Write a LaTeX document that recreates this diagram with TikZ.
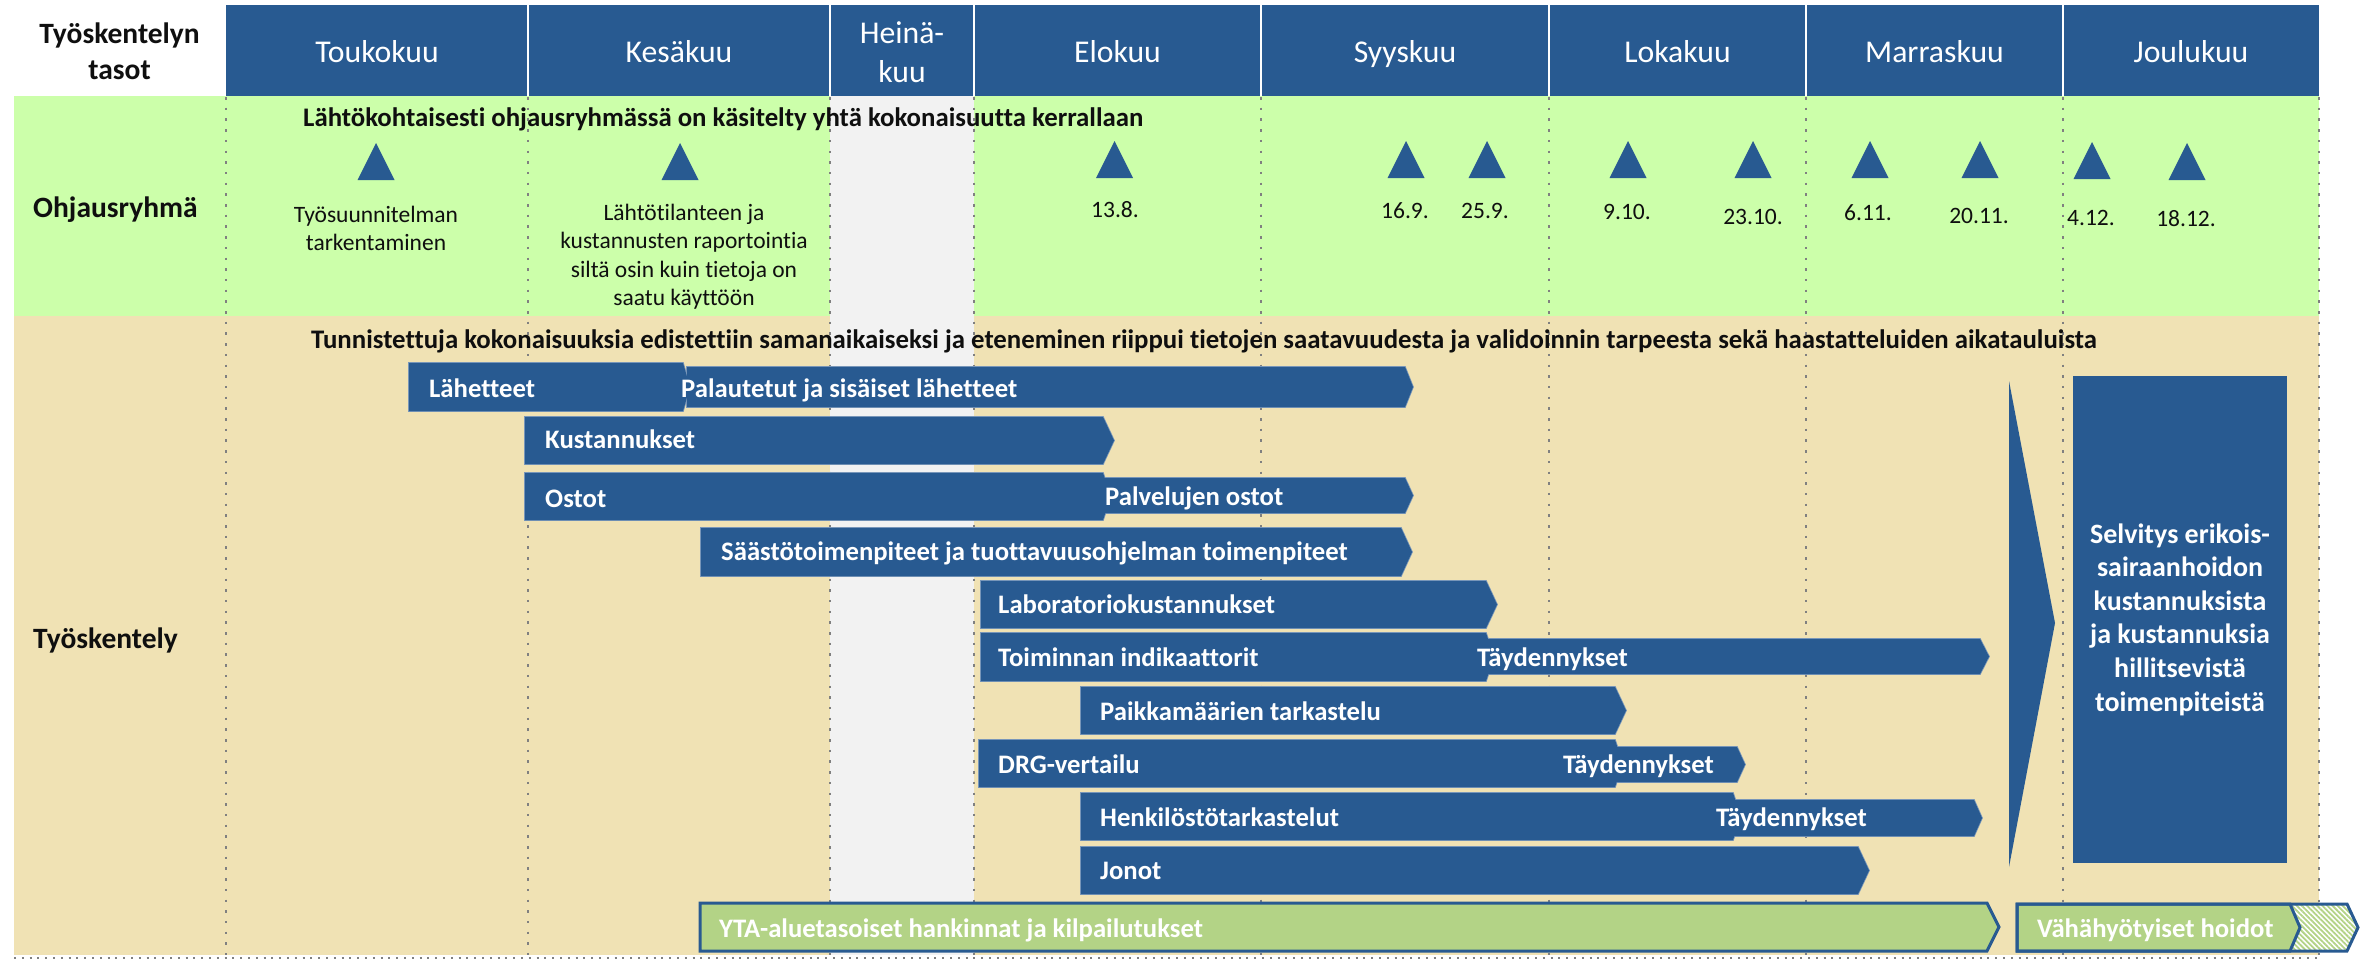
\documentclass[tikz,border=0pt]{standalone}
\usepackage{fontspec}
\setmainfont{Carlito}[Ligatures={NoCommon}]
\usetikzlibrary{patterns.meta}

\definecolor{barblue}{RGB}{40,90,145}
\definecolor{baredgecol}{RGB}{120,150,185}
\definecolor{bandgreen}{RGB}{204,255,170}
\definecolor{bandtan}{RGB}{240,226,180}
\definecolor{colgray}{RGB}{242,242,242}
\definecolor{ytagreen}{RGB}{179,211,134}
\definecolor{gridgray}{RGB}{128,128,128}
\definecolor{inktext}{RGB}{15,15,15}

% pentagon bar: style, x left, y top, x end of body, x of tip, y bottom
\newcommand\ganttshape[6]{%
  \path[#1] (#2,#3) -- (#4,#3) -- (#5,{(#3+#6)/2}) -- (#4,#6) -- (#2,#6) -- cycle;}
% milestone triangle: centre x, apex y, base y
\newcommand\msmark[3]{%
  \fill[barblue] ({#1-18.5},#3) -- (#1,#2) -- ({#1+18.5},#3) -- cycle;}

\tikzset{
  monthlabel/.style={text=white, font=\fontsize{31.7}{38}\selectfont, anchor=base, inner sep=0},
  rowhead/.style={text=inktext, font=\bfseries\fontsize{29.5}{35}\selectfont, anchor=base west, inner sep=0},
  notetext/.style={text=inktext, font=\fontsize{23.5}{28}\selectfont, anchor=base, inner sep=0},
  banner/.style={text=inktext, font=\bfseries\fontsize{26.8}{32}\selectfont, anchor=base west, inner sep=0},
  barlabel/.style={text=white, font=\bfseries\fontsize{26.7}{32}\selectfont, anchor=base west, inner sep=0},
  barfill/.style={fill=barblue},
  baredge/.style={draw=baredgecol, line width=1.6},
  gridline/.style={gridgray, line width=2.5, dash pattern=on 2.5 off 8.2},
}

\begin{document}
\begin{tikzpicture}[x=1pt, y=-1pt]
\useasboundingbox (0,0) rectangle (2366,961);
\fill[white] (0,0) rectangle (2366,961);

% bands
\fill[bandgreen] (14,96) rectangle (2319,316);
\fill[bandtan] (14,316) rectangle (2319,955);
\fill[colgray] (830,96) rectangle (974,955);

% header
\fill[barblue] (226,5) rectangle (2319,96);
\foreach \x in {528,830,974,1261,1549,1806,2063}
  \draw[white, line width=2] (\x,5) -- (\x,96);

% month grid
\foreach \x in {226,528,830,974,1261,1549,1806,2063,2319}
  \draw[gridline] (\x,97) -- (\x,955);
\draw[gridgray, line width=2.5, dash pattern=on 2 off 5.8] (14,958) -- (2319,958);

% header texts
\node[rowhead, anchor=base] (lv1) at (119.5,43) {Työskentelyn};
\node[rowhead, anchor=base] (lv2) at (119.5,79) {tasot};
\node[monthlabel] (m5) at (377,62) {Toukokuu};
\node[monthlabel] (m6) at (679,62) {Kesäkuu};
\node[monthlabel] (m7a) at (902,43) {Heinä-};
\node[monthlabel] (m7b) at (902,82) {kuu};
\node[monthlabel] (m8) at (1117.5,62) {Elokuu};
\node[monthlabel] (m9) at (1405,62) {Syyskuu};
\node[monthlabel] (m10) at (1677.5,62) {Lokakuu};
\node[monthlabel] (m11) at (1934.5,62) {Marraskuu};
\node[monthlabel] (m12) at (2191,62) {Joulukuu};

% steering group row
\node[rowhead] (ohj) at (33,217) {Ohjausryhmä};
\node[banner] (ohjnote) at (303,126) {Lähtökohtaisesti ohjausryhmässä on käsitelty yhtä kokonaisuutta kerrallaan};

\msmark{376}{143}{180}
\msmark{680}{143}{180}
\msmark{1114.5}{141}{178}
\msmark{1406}{141}{178}
\msmark{1487}{141}{178}
\msmark{1628}{141}{178}
\msmark{1753}{141}{178}
\msmark{1870}{141}{178}
\msmark{1980}{141}{178}
\msmark{2092}{142}{179}
\msmark{2187}{143}{180}

\node[notetext] (n1a) at (376,222) {Työsuunnitelman};
\node[notetext] (n1b) at (376,250) {tarkentaminen};
\node[notetext] (n2a) at (684,220) {Lähtötilanteen ja};
\node[notetext] (n2b) at (684,248.5) {kustannusten raportointia};
\node[notetext] (n2c) at (684,277) {siltä osin kuin tietoja on};
\node[notetext] (n2d) at (684,305.5) {saatu käyttöön};
\node[notetext] (d1) at (1115,217) {13.8.};
\node[notetext] (d2) at (1405,218) {16.9.};
\node[notetext] (d3) at (1485,218) {25.9.};
\node[notetext] (d4) at (1627,219) {9.10.};
\node[notetext] (d5) at (1753,224) {23.10.};
\node[notetext] (d6) at (1868,220) {6.11.};
\node[notetext] (d7) at (1979,223) {20.11.};
\node[notetext] (d8) at (2091,225) {4.12.};
\node[notetext] (d9) at (2186,226) {18.12.};

% working row
\node[rowhead] (tyo) at (33,648) {Työskentely};
\node[banner] (tyonote) at (311,348) {Tunnistettuja kokonaisuuksia edistettiin samanaikaiseksi ja eteneminen riippui tietojen saatavuudesta ja validoinnin tarpeesta sekä haastatteluiden aikatauluista};

% task bars: outlines first, fills on top so joined bars share one outline
\ganttshape{baredge}{409}{363}{683}{690}{411}
\ganttshape{baredge}{687}{367}{1405}{1413}{407}
\ganttshape{baredge}{525}{417}{1103}{1114}{464}
\ganttshape{baredge}{525}{473}{1103}{1111}{520}
\ganttshape{baredge}{1103}{478}{1405}{1413}{513}
\ganttshape{baredge}{701}{528}{1401}{1412}{576}
\ganttshape{baredge}{981}{581}{1486}{1497}{628}
\ganttshape{baredge}{981}{633}{1486}{1494}{681}
\ganttshape{baredge}{1486}{639}{1980}{1989}{674}
\ganttshape{baredge}{1081}{687}{1615}{1626}{734}
\ganttshape{baredge}{979}{740}{1615}{1623}{787}
\ganttshape{baredge}{1615}{747}{1737}{1745}{782}
\ganttshape{baredge}{1081}{793}{1733}{1741}{840}
\ganttshape{baredge}{1733}{800}{1974}{1982}{836}
\ganttshape{baredge}{1081}{847}{1858}{1869}{894}

\ganttshape{barfill}{409}{363}{683}{690}{411}
\ganttshape{barfill}{687}{367}{1405}{1413}{407}
\ganttshape{barfill}{525}{417}{1103}{1114}{464}
\ganttshape{barfill}{525}{473}{1103}{1111}{520}
\ganttshape{barfill}{1103}{478}{1405}{1413}{513}
\ganttshape{barfill}{701}{528}{1401}{1412}{576}
\ganttshape{barfill}{981}{581}{1486}{1497}{628}
\ganttshape{barfill}{981}{633}{1486}{1494}{681}
\ganttshape{barfill}{1486}{639}{1980}{1989}{674}
\ganttshape{barfill}{1081}{687}{1615}{1626}{734}
\ganttshape{barfill}{979}{740}{1615}{1623}{787}
\ganttshape{barfill}{1615}{747}{1737}{1745}{782}
\ganttshape{barfill}{1081}{793}{1733}{1741}{840}
\ganttshape{barfill}{1733}{800}{1974}{1982}{836}
\ganttshape{barfill}{1081}{847}{1858}{1869}{894}

\node[barlabel] (b1) at (429,397) {Lähetteet};
\node[barlabel] (b1b) at (681,397) {Palautetut ja sisäiset lähetteet};
\node[barlabel] (b2) at (545,448) {Kustannukset};
\node[barlabel] (b3) at (545,507) {Ostot};
\node[barlabel] (b3b) at (1105,505) {Palvelujen ostot};
\node[barlabel] (b4) at (721,560) {Säästötoimenpiteet ja tuottavuusohjelman toimenpiteet};
\node[barlabel] (b5) at (998,613) {Laboratoriokustannukset};
\node[barlabel] (b6) at (998,666) {Toiminnan indikaattorit};
\node[barlabel] (b6b) at (1477,666) {Täydennykset};
\node[barlabel] (b7) at (1100,720) {Paikkamäärien tarkastelu};
\node[barlabel] (b8) at (998,773) {DRG-vertailu};
\node[barlabel] (b8b) at (1563,773) {Täydennykset};
\node[barlabel] (b9) at (1100,826) {Henkilöstötarkastelut};
\node[barlabel] (b9b) at (1716,826) {Täydennykset};
\node[barlabel] (b10) at (1100,879) {Jonot};

% regional procurement bar
\ganttshape{fill=ytagreen, draw=barblue, line width=3}{700}{903}{1987}{1999}{951}
\node[barlabel] (yta) at (719,937) {YTA-aluetasoiset hankinnat ja kilpailutukset};

% low-value care bar with hatched continuation
\ganttshape{fill=white}{2017}{904}{2347}{2358}{951}
\ganttshape{pattern={Lines[angle=-45, distance=3.6pt, line width=1.8pt]}, pattern color=ytagreen}{2017}{904}{2347}{2358}{951}
\ganttshape{fill=ytagreen, draw=barblue, line width=3}{2017}{904}{2290}{2300}{951}
\ganttshape{draw=barblue, line width=3}{2017}{904}{2347}{2358}{951}
\node[barlabel] (vah) at (2037,937) {Vähähyötyiset hoidot};

% summary arrow and result box
\fill[barblue] (2009,381) -- (2055,623) -- (2009,867) -- cycle;
\fill[barblue] (2073,376) rectangle (2287,863);
\node[text=white, font=\bfseries\fontsize{28}{33.6}\selectfont, align=center, inner sep=0] (result) at (2180,619.5)
  {Selvitys erikois-\\sairaanhoidon\\kustannuksista\\ja kustannuksia\\hillitsevistä\\toimenpiteistä};
\end{tikzpicture}
\end{document}
